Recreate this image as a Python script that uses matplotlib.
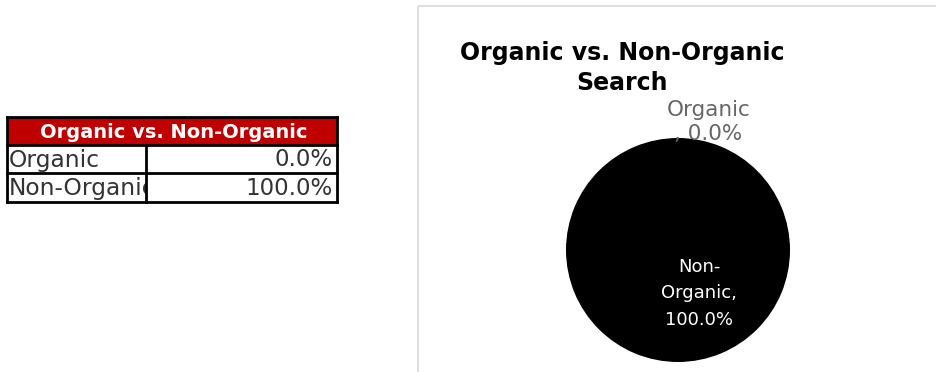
import matplotlib.pyplot as plt
from matplotlib.patches import Rectangle

CATEGORIES = ["Organic", "Non-Organic"]
SHARES = [0.0, 100.0]  # percent of searches
TABLE_TITLE = "Organic vs. Non-Organic"
CHART_TITLE = "Organic vs. Non-Organic\nSearch"

SLICE_COLORS = ["#7F7F7F", "#000000"]
HEADER_RED = "#C00000"


def draw_table(ax):
    left, right, mid = 7, 337, 146
    rows_y = [117, 145, 173, 202]

    # header band
    ax.add_patch(Rectangle((left, rows_y[0]), right - left, rows_y[1] - rows_y[0],
                           facecolor=HEADER_RED, edgecolor="none", zorder=1))
    ax.text((left + right) / 2 + 2, (rows_y[0] + rows_y[1]) / 2 + 1, TABLE_TITLE,
            color="white", fontsize=14, fontweight="bold",
            ha="center", va="center", zorder=3)

    for i, (cat, val) in enumerate(zip(CATEGORIES, SHARES)):
        top, bot = rows_y[i + 1], rows_y[i + 2]
        yc = (top + bot) / 2 + 1
        ax.text(left + 2, yc, cat, fontsize=16.8, color="#333333",
                ha="left", va="center", zorder=2)
        # value cell covers any overflow from the label cell
        ax.add_patch(Rectangle((mid, top), right - mid, bot - top,
                               facecolor="white", edgecolor="none", zorder=2.5))
        ax.text(right - 4, yc, f"{val:.1f}%", fontsize=16.5, color="#333333",
                ha="right", va="center", zorder=3)

    lw = 2.0
    for y in rows_y:
        ax.plot([left, right], [y, y], color="black", lw=lw, zorder=4)
    ax.plot([left, left], [rows_y[0], rows_y[-1]], color="black", lw=lw, zorder=4)
    ax.plot([right, right], [rows_y[0], rows_y[-1]], color="black", lw=lw, zorder=4)
    ax.plot([mid, mid], [rows_y[1], rows_y[-1]], color="black", lw=lw, zorder=4)


def main():
    fig = plt.figure(figsize=(9.37, 3.72), dpi=100)
    W, H = 937, 372

    bg = fig.add_axes([0, 0, 1, 1])
    bg.set_xlim(0, W)
    bg.set_ylim(H, 0)
    bg.axis("off")

    draw_table(bg)

    # chart area border
    bg.add_patch(Rectangle((418, 6), 700, 500, fill=False,
                           edgecolor="#D9D9D9", lw=1.2))
    bg.text(622, 68, CHART_TITLE, fontsize=17, fontweight="bold",
            ha="center", va="center", linespacing=1.35)

    cx, cy, r = 678, 250, 112
    pie_ax = fig.add_axes([(cx - r) / W, (H - cy - r) / H, 2 * r / W, 2 * r / H])
    pie_ax.pie(SHARES, colors=SLICE_COLORS, startangle=90, counterclock=False,
               wedgeprops={"linewidth": 0})
    pie_ax.set_xlim(-1, 1)
    pie_ax.set_ylim(-1, 1)
    pie_ax.axis("off")

    org_label = f"{CATEGORIES[0]}\n, {SHARES[0]:.1f}%"
    non_label = "Non-\nOrganic,\n" + f"{SHARES[1]:.1f}%"
    pie_ax.text(0.27, 1.14, org_label, fontsize=15.5, color="#666666",
                ha="center", va="center", linespacing=1.25)
    pie_ax.text(0.19, -0.385, non_label, fontsize=13, color="white",
                ha="center", va="center", linespacing=1.6)

    fig.savefig("out.png", dpi=100)


if __name__ == "__main__":
    main()
